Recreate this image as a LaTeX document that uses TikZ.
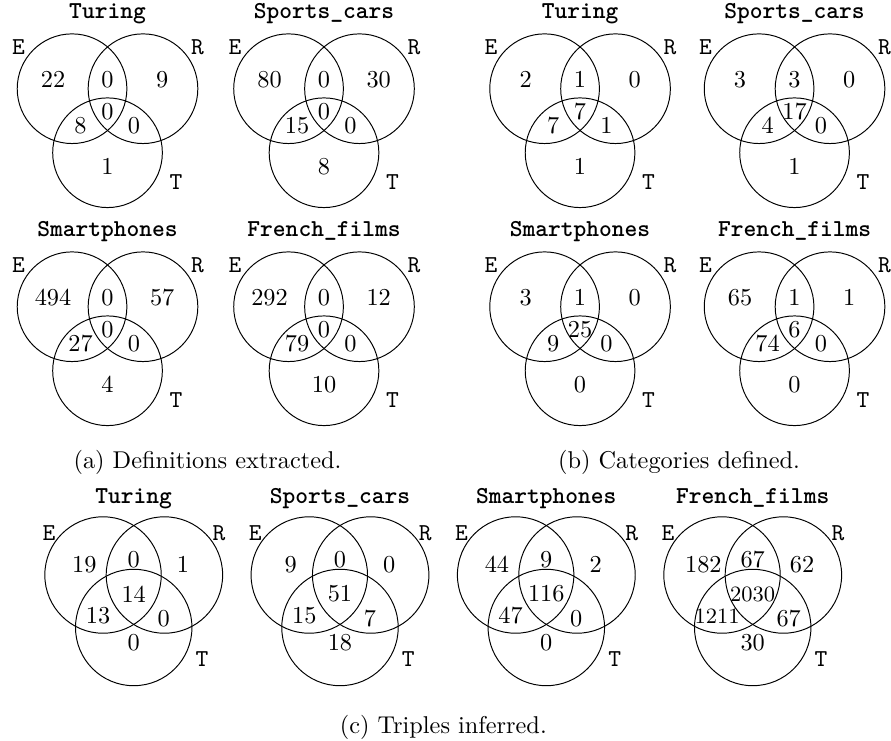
\documentclass[tikz,border=0pt]{standalone}
\usetikzlibrary{positioning}

\begin{document}
\begin{tikzpicture}[
    set/.style={circle, draw, inner sep=0pt, minimum size=1.586cm},
    bigset/.style={set, minimum size=1.684cm},
    setname/.style={font=\ttfamily},
    title/.style={font=\ttfamily\bfseries, anchor=base},
    count/.style={inner sep=0pt},
    caption/.style={anchor=base}]

  \useasboundingbox (0,0) rectangle (12.886,-10.703);

  % (a) and (b): two rows of four diagrams
  \foreach \vname/\x/\y/\vtitle/\nE/\nER/\nR/\nERT/\nET/\nRT/\nT in {
      a1/1.555/-1.283/Turing/22/0/9/0/8/0/1,
      a2/4.686/-1.283/Sports\_cars/80/0/30/0/15/0/8,
      a3/1.555/-4.436/Smartphones/494/0/57/0/27/0/4,
      a4/4.686/-4.436/French\_films/292/0/12/0/79/0/10,
      b1/8.389/-1.283/Turing/2/1/0/7/7/1/1,
      b2/11.491/-1.283/Sports\_cars/3/3/0/17/4/0/1,
      b3/8.389/-4.436/Smartphones/3/1/0/25/9/0/0,
      b4/11.491/-4.436/French\_films/65/1/1/6/74/0/0}{
    \begin{scope}[shift={(\x,\y)}]
      \node[set] (\vname-E) at (-0.513,0) {};
      \node[set] (\vname-R) at ( 0.513,0) {};
      \node[set] (\vname-T) at (0,-0.926) {};
      \node[title] (\vname-title) at (0,1.01) {\vtitle};
      \node[setname] (\vname-lE) at (-1.287,0.600) {E};
      \node[setname] (\vname-lR) at ( 1.302,0.600) {R};
      \node[setname] (\vname-lT) at ( 0.991,-1.345) {T};
      \node[count] (\vname-e)   at (-0.788,0.136) {\nE};
      \node[count] (\vname-er)  at (0,0.136) {\nER};
      \node[count] (\vname-r)   at ( 0.791,0.136) {\nR};
      \node[count] (\vname-ert) at (0,-0.333) {\nERT};
      \node[count] (\vname-et)  at (-0.390,-0.531) {\nET};
      \node[count] (\vname-rt)  at ( 0.383,-0.531) {\nRT};
      \node[count] (\vname-t)   at (0,-1.124) {\nT};
    \end{scope}
  }

  % (c): one row, circles overlap more
  \foreach \vname/\x/\vtitle/\nE/\nER/\nR/\nERT/\nET/\nRT/\nT in {
      c1/1.934/Turing/19/0/1/14/13/0/0,
      c2/4.917/Sports\_cars/9/0/0/51/15/7/18,
      c3/7.901/Smartphones/44/9/2/116/47/0/0,
      c4/10.886/French\_films/182/67/62/{\small 2030}/{\small 1211}/67/30}{
    \begin{scope}[shift={(\x,-8.316)}]
      \node[bigset] (\vname-E) at (-0.444,0) {};
      \node[bigset] (\vname-R) at ( 0.444,0) {};
      \node[bigset] (\vname-T) at (0,-0.759) {};
      \node[title] (\vname-title) at (0,1.037) {\vtitle};
      \node[setname] (\vname-lE) at (-1.225,0.603) {E};
      \node[setname] (\vname-lR) at ( 1.234,0.603) {R};
      \node[setname] (\vname-lT) at ( 0.988,-1.215) {T};
      \node[count] (\vname-e)   at (-0.714,0.149) {\nE};
      \node[count] (\vname-er)  at (0,0.217) {\nER};
      \node[count] (\vname-r)   at ( 0.713,0.149) {\nR};
      \node[count] (\vname-ert) at (0,-0.275) {\nERT};
      \node[count] (\vname-et)  at (-0.516,-0.589) {\nET};
      \node[count, anchor=west] (\vname-rt) at (0.338,-0.636) {\nRT};
      \node[count] (\vname-t)   at (0,-0.979) {\nT};
    \end{scope}
  }

  \node[caption] (capA) at (3.001,-6.773) {(a) Definitions extracted.};
  \node[caption] (capB) at (9.820,-6.773) {(b) Categories defined.};
  \node[caption] (capC) at (6.411,-10.606) {(c) Triples inferred.};

\end{tikzpicture}
\end{document}
